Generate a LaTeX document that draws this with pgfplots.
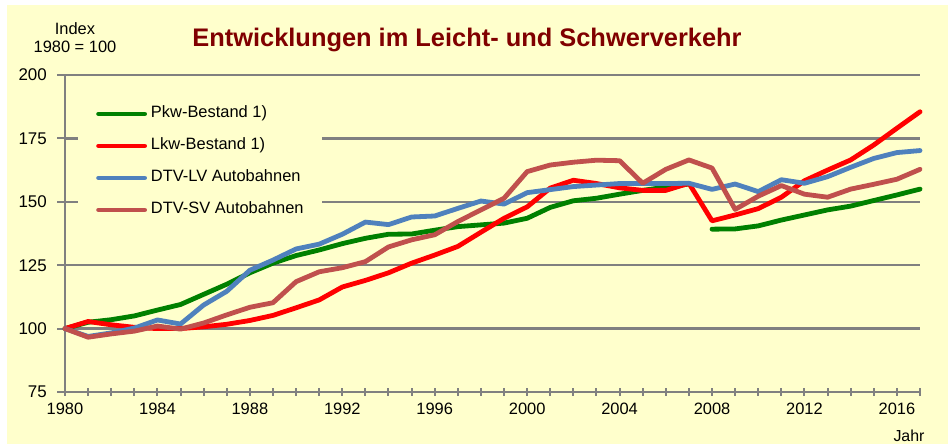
\documentclass[border=0pt]{standalone}
\usepackage{pgfplots}
\pgfplotsset{compat=1.18}
\usepackage{fontspec}
\setmainfont{Liberation Sans}
\definecolor{bg}{RGB}{255,255,204}
\definecolor{gridgray}{RGB}{128,128,128}
\definecolor{titlered}{RGB}{128,0,0}
\definecolor{pkw}{RGB}{0,128,0}
\definecolor{lkw}{RGB}{255,0,0}
\definecolor{lv}{RGB}{79,129,189}
\definecolor{sv}{RGB}{192,80,77}
\begin{document}
\begin{tikzpicture}[x=1bp,y=1bp]
\fill[bg] (7,0) rectangle (948,439);
\begin{axis}[
  at={(65bp,52bp)}, anchor=south west,
  scale only axis, width=855bp, height=317bp,
  xmin=1980, xmax=2017, ymin=75, ymax=200,
  clip=false,
  axis x line*=bottom, axis y line*=left,
  axis line style={gridgray, line width=2.5bp, -},
  ytick={75,100,...,200},
  ymajorgrids, grid style={gridgray, line width=2.5bp},
  xtick={1980,1984,...,2016},
  minor xtick={1980,...,2017},
  xtick align=center, ytick align=outside,
  major tick length=8bp, minor tick length=8bp,
  tick style={gridgray, line width=2bp},
  /pgf/number format/1000 sep={},
  /pgf/number format/assume math mode=true,
  xticklabel style={font=\fontsize{16.5}{18}\selectfont, inner sep=0pt, anchor=north, yshift=-7bp},
  yticklabel style={font=\fontsize{17}{18}\selectfont, inner sep=0pt, anchor=east, xshift=-10bp},
  unbounded coords=jump,
  legend image code/.code={\draw[#1, line cap=round] (0bp,0bp) -- (46bp,0bp);},
  legend cell align=left,
  legend style={at={(0.0152,0.922)}, anchor=north west, fill=bg, draw=none,
    inner xsep=18bp, inner ysep=6bp, row sep=16bp, column sep=4bp,
    font=\fontsize{16.5}{18}\selectfont,
    nodes={inner sep=0bp, text height=12bp, text depth=4bp}},
  every axis plot/.append style={line width=4.8bp, line join=round, line cap=round},
]
\addplot[pkw] coordinates {
(1980,100) (1981,102.5) (1982,103.5) (1983,105) (1984,107.3) (1985,109.5)
(1986,113.5) (1987,117.5) (1988,122) (1989,125.8) (1990,128.8) (1991,131)
(1992,133.5) (1993,135.6) (1994,137.2) (1995,137.3) (1996,138.8) (1997,140.2)
(1998,140.9) (1999,141.6) (2000,143.5) (2001,147.8) (2002,150.4) (2003,151.4)
(2004,153) (2005,154.5) (2006,155.8) (2007,157) (2007.5,nan)
(2008,139.2) (2009,139.3) (2010,140.5) (2011,142.8) (2012,144.8) (2013,146.8)
(2014,148.3) (2015,150.5) (2016,152.7) (2017,155)};
\addlegendentry{Pkw-Bestand 1)}
\addplot[lkw] coordinates {
(1980,100) (1981,102.8) (1982,101.5) (1983,100.5) (1984,100) (1985,100)
(1986,100.7) (1987,101.7) (1988,103.2) (1989,105.2) (1990,108.2) (1991,111.3)
(1992,116.4) (1993,119) (1994,122) (1995,125.8) (1996,129) (1997,132.4)
(1998,138) (1999,143.5) (2000,148) (2001,155.4) (2002,158.5) (2003,157.2)
(2004,155.5) (2005,154.5) (2006,154.5) (2007,157.3) (2008,142.5) (2009,144.8)
(2010,147.3) (2011,151.8) (2012,158.3) (2013,162.5) (2014,166.5) (2015,172.4)
(2016,179) (2017,185.5)};
\addlegendentry{Lkw-Bestand 1)}
\addplot[lv] coordinates {
(1980,100) (1981,96.9) (1982,98.3) (1983,100.2) (1984,103.4) (1985,101.8)
(1986,109.3) (1987,114.7) (1988,123) (1989,127) (1990,131.4) (1991,133.3)
(1992,137.2) (1993,142) (1994,141) (1995,144) (1996,144.4) (1997,147.4)
(1998,150.3) (1999,149.1) (2000,153.6) (2001,154.8) (2002,156) (2003,156.6)
(2004,157.2) (2005,157.2) (2006,157.2) (2007,157.3) (2008,154.9) (2009,157)
(2010,154) (2011,158.7) (2012,157.3) (2013,159.9) (2014,163.6) (2015,167.1)
(2016,169.4) (2017,170.2)};
\addlegendentry{DTV-LV Autobahnen}
\addplot[sv] coordinates {
(1980,100) (1981,96.6) (1982,97.9) (1983,99) (1984,101) (1985,99.8)
(1986,102.2) (1987,105.4) (1988,108.4) (1989,110.2) (1990,118.5) (1991,122.4)
(1992,124) (1993,126.4) (1994,132.2) (1995,135) (1996,137) (1997,142.2)
(1998,146.8) (1999,151.4) (2000,161.9) (2001,164.5) (2002,165.6) (2003,166.4)
(2004,166.2) (2005,157.3) (2006,162.8) (2007,166.5) (2008,163.3) (2009,147)
(2010,152.2) (2011,156.4) (2012,153) (2013,151.8) (2014,155) (2015,156.9)
(2016,158.9) (2017,162.8)};
\addlegendentry{DTV-SV Autobahnen}
\end{axis}
\node[anchor=base, font=\fontsize{25.5}{28}\selectfont\bfseries, text=titlered, inner sep=0pt] at (467,397) {Entwicklungen im Leicht- und Schwerverkehr};
\node[anchor=base, font=\fontsize{16.5}{18}\selectfont, inner sep=0pt] at (75,409) {Index};
\node[anchor=base, font=\fontsize{16.5}{18}\selectfont, inner sep=0pt] at (75,391) {1980 = 100};
\node[anchor=base, font=\fontsize{16}{18}\selectfont, inner sep=0pt] at (909,2) {Jahr};
\pgfresetboundingbox
\useasboundingbox (0,0) rectangle (948,444);
\end{tikzpicture}
\end{document}
